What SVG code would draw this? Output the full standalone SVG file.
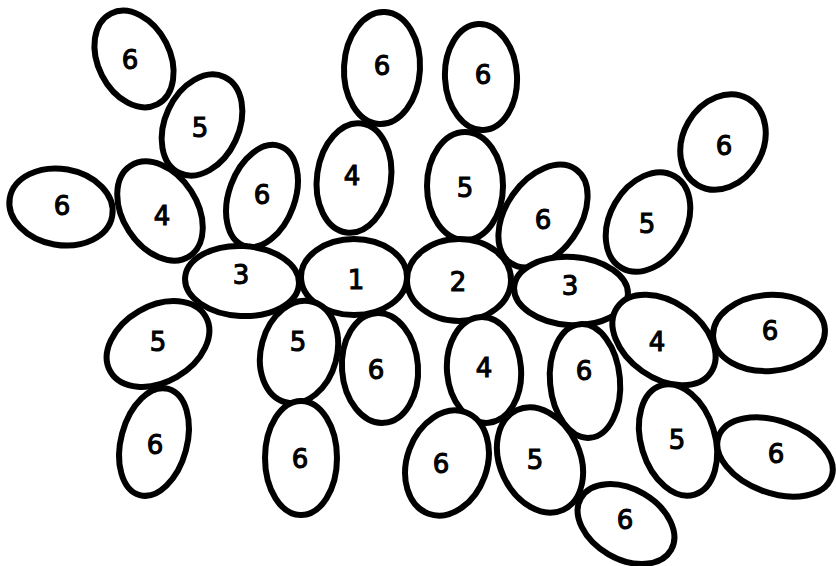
<svg xmlns="http://www.w3.org/2000/svg" width="836" height="566" viewBox="0 0 836 566">
<style>
.c{fill:#fff;stroke:#000;stroke-width:6}
.t{font-family:"DejaVu Sans","Liberation Sans",Arial,sans-serif;font-size:26px;font-weight:normal;stroke:#000;stroke-width:1.1;text-anchor:middle;dominant-baseline:central;fill:#000}
</style>
<rect width="836" height="566" fill="#fff"/>
<g id="n6a"><ellipse class="c" cx="134" cy="59" rx="36" ry="51" transform="rotate(-27 134 59)"/><text class="t" x="130" y="60">6</text></g>
<g id="n5a"><ellipse class="c" cx="202" cy="125" rx="37" ry="53" transform="rotate(25 202 125)"/><text class="t" x="200" y="128">5</text></g>
<g id="n6b"><ellipse class="c" cx="61" cy="207" rx="52" ry="38" transform="rotate(10 61 207)"/><text class="t" x="62" y="206">6</text></g>
<g id="n4a"><ellipse class="c" cx="160" cy="211" rx="37" ry="54" transform="rotate(-33 160 211)"/><text class="t" x="162" y="216">4</text></g>
<g id="n6c"><ellipse class="c" cx="262" cy="196" rx="33" ry="53" transform="rotate(20 262 196)"/><text class="t" x="262" y="195">6</text></g>
<g id="n6d"><ellipse class="c" cx="382" cy="68" rx="38" ry="56" transform="rotate(3 382 68)"/><text class="t" x="382" y="66">6</text></g>
<g id="n4b"><ellipse class="c" cx="354" cy="178" rx="37" ry="55" transform="rotate(8 354 178)"/><text class="t" x="352" y="176">4</text></g>
<g id="n6e"><ellipse class="c" cx="481" cy="77" rx="36" ry="53" transform="rotate(-3 481 77)"/><text class="t" x="483" y="75">6</text></g>
<g id="n5b"><ellipse class="c" cx="465" cy="186" rx="38" ry="54"/><text class="t" x="465" y="188">5</text></g>
<g id="n6f"><ellipse class="c" cx="543" cy="216" rx="37" ry="57" transform="rotate(35 543 216)"/><text class="t" x="543" y="220">6</text></g>
<g id="n6g"><ellipse class="c" cx="723" cy="142" rx="40" ry="50" transform="rotate(30 723 142)"/><text class="t" x="724" y="146">6</text></g>
<g id="n5c"><ellipse class="c" cx="648" cy="222" rx="38" ry="53" transform="rotate(30 648 222)"/><text class="t" x="647" y="224">5</text></g>
<g id="n3a"><ellipse class="c" cx="242" cy="281" rx="57" ry="35" transform="rotate(3 242 281)"/><text class="t" x="241" y="275">3</text></g>
<g id="n1"><ellipse class="c" cx="354" cy="277" rx="53" ry="38"/><text class="t" x="356" y="280">1</text></g>
<g id="n2"><ellipse class="c" cx="459" cy="280" rx="52" ry="41"/><text class="t" x="458" y="282">2</text></g>
<g id="n3b"><ellipse class="c" cx="571" cy="291" rx="57" ry="34" transform="rotate(4 571 291)"/><text class="t" x="570" y="286">3</text></g>
<g id="n5d"><ellipse class="c" cx="158" cy="344" rx="55" ry="38" transform="rotate(-30 158 344)"/><text class="t" x="158" y="342">5</text></g>
<g id="n6h"><ellipse class="c" cx="154" cy="442" rx="33" ry="55" transform="rotate(15 154 442)"/><text class="t" x="155" y="445">6</text></g>
<g id="n5e"><ellipse class="c" cx="299" cy="352" rx="38" ry="52" transform="rotate(15 299 352)"/><text class="t" x="298" y="342">5</text></g>
<g id="n6i"><ellipse class="c" cx="301" cy="458" rx="36" ry="57"/><text class="t" x="300" y="459">6</text></g>
<g id="n6j"><ellipse class="c" cx="380" cy="368" rx="38" ry="55" transform="rotate(-4 380 368)"/><text class="t" x="376" y="370">6</text></g>
<g id="n4c"><ellipse class="c" cx="484" cy="370" rx="37" ry="53" transform="rotate(-5 484 370)"/><text class="t" x="484" y="368">4</text></g>
<g id="n6k"><ellipse class="c" cx="585" cy="381" rx="35" ry="57" transform="rotate(-5 585 381)"/><text class="t" x="584" y="371">6</text></g>
<g id="n4d"><ellipse class="c" cx="664" cy="340" rx="57" ry="38" transform="rotate(35 664 340)"/><text class="t" x="657" y="342">4</text></g>
<g id="n6l"><ellipse class="c" cx="769" cy="333" rx="56" ry="38" transform="rotate(-4 769 333)"/><text class="t" x="770" y="331">6</text></g>
<g id="n6m"><ellipse class="c" cx="447" cy="463" rx="40" ry="54" transform="rotate(20 447 463)"/><text class="t" x="441" y="464">6</text></g>
<g id="n5f"><ellipse class="c" cx="540" cy="460" rx="40" ry="55" transform="rotate(-25 540 460)"/><text class="t" x="535" y="460">5</text></g>
<g id="n5g"><ellipse class="c" cx="678" cy="440" rx="37" ry="57" transform="rotate(-17 678 440)"/><text class="t" x="677" y="440">5</text></g>
<g id="n6n"><ellipse class="c" cx="775" cy="457" rx="60" ry="36" transform="rotate(20 775 457)"/><text class="t" x="776" y="454">6</text></g>
<g id="n6o"><ellipse class="c" cx="626" cy="524" rx="52" ry="35" transform="rotate(30 626 524)"/><text class="t" x="625" y="520">6</text></g>
<g id="connectors"></g>
</svg>
